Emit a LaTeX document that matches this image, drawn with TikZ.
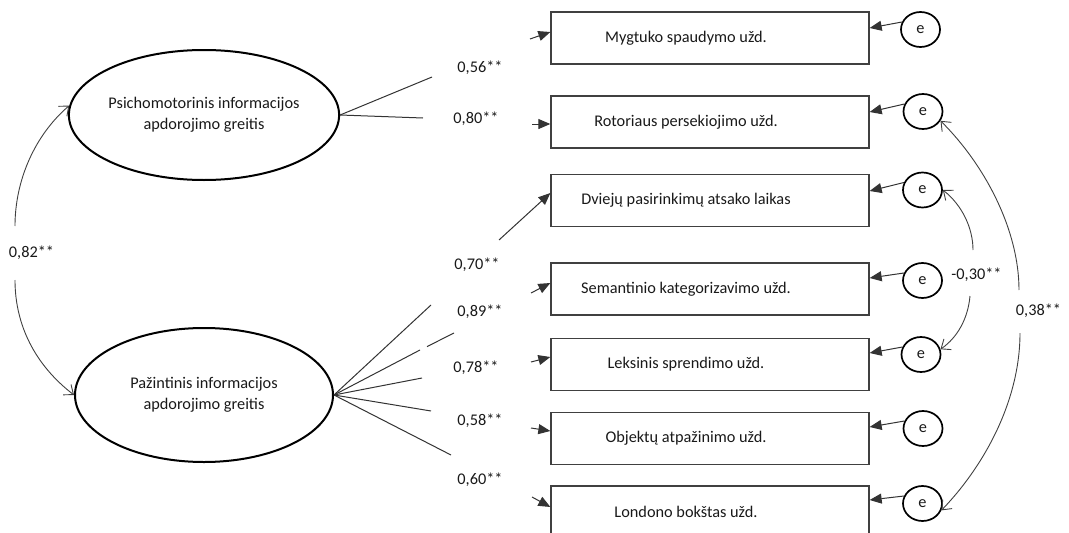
\documentclass[tikz,border=0pt]{standalone}
\usepackage{fontspec}
\setmainfont{Carlito}
\usetikzlibrary{arrows.meta,shapes.geometric}
\begin{document}
\begin{tikzpicture}[x=1pt,y=-1pt,
  every node/.style={font=\fontsize{16.3}{21}\selectfont, text=black!90},
  latent/.style={ellipse, draw=black, line width=2pt, minimum width=258pt, minimum height=130pt, align=center, inner sep=0pt},
  obs/.style={rectangle, draw=black!75, line width=1.3pt, minimum width=318pt, minimum height=52pt, inner sep=0pt},
  err/.style={ellipse, draw=black, line width=1.7pt, minimum width=39pt, minimum height=35pt, inner sep=0pt},
  load/.style={draw=black!80, line width=1pt},
  loadarr/.style={load, -{Triangle[length=12pt,width=10pt]}},
  covl/.style={draw=black!75, line width=0.9pt, -{Straight Barb[length=8pt,width=13pt]}},
  lab/.style={inner sep=0pt}]
\useasboundingbox (0,0) rectangle (1069,533);

% latent variables
\node[latent] (L1) at (204,115) {Psichomotorinis informacijos\\apdorojimo greitis};
\node[latent, minimum height=134pt] (L2) at (204,395) {Pažintinis informacijos\\apdorojimo greitis};

% observed variables
\node[obs] (b1) at (710,38)    {Mygtuko spaudymo užd.\hspace*{48pt}};
\node[obs] (b2) at (710,122)   {Rotoriaus persekiojimo užd.\hspace*{48pt}};
\node[obs] (b3) at (710,200.5) {Dviejų pasirinkimų atsako laikas\hspace*{48pt}};
\node[obs] (b4) at (710,289)   {Semantinio kategorizavimo užd.\hspace*{48pt}};
\node[obs] (b5) at (710,364.5) {Leksinis sprendimo užd.\hspace*{48pt}};
\node[obs] (b6) at (710,438.5) {Objektų atpažinimo užd.\hspace*{48pt}};
\node[obs] (b7) at (710,512)   {Londono bokštas užd.\hspace*{48pt}};

% error terms
\node[err] (e1) at (920.5,29.5) {e};
\node[err] (e2) at (923,111.5)  {e};
\node[err] (e3) at (922.5,190)  {e};
\node[err] (e4) at (922.5,280.5){e};
\node[err] (e5) at (921,354.5)  {e};
\node[err] (e6) at (923,428.5)  {e};
\node[err] (e7) at (922.5,503.5){e};

\foreach \i/\s in {1/10,2/10,3/9.5,4/11,5/11.5,6/11.5,7/12}
  \draw[loadarr] (e\i.158) -- ([yshift=\s pt]b\i.east);

% loading labels
\node[lab] (t1) at (480,68)  {0,56**};
\node[lab] (t2) at (476,119) {0,80**};
\node[lab] (t3) at (477,265) {0,70**};
\node[lab] (t4) at (480,312) {0,89**};
\node[lab] (t5) at (476,368) {0,78**};
\node[lab] (t6) at (480,421) {0,58**};
\node[lab] (t7) at (480,480) {0,60**};

% break points of the loading lines
\coordinate (p1a) at (432,77);  \coordinate (p1b) at (530,39);
\coordinate (p2a) at (423,118); \coordinate (p2b) at (532,124);
\coordinate (p3a) at (431,305); \coordinate (p3b) at (499,240);
\coordinate (p4a) at (420,350); \coordinate (p4c) at (427,346.6); \coordinate (p4d) at (454,333); \coordinate (p4b) at (531,293);
\coordinate (p5a) at (422,378); \coordinate (p5b) at (531,362);
\coordinate (p6a) at (431,411); \coordinate (p6b) at (531,428);
\coordinate (p7a) at (451,455); \coordinate (p7b) at (532,497);

\draw[load] (L1.east) -- (p1a);
\draw[loadarr] (p1b) -- ([yshift=6pt]b1.west);
\draw[load] (L1.east) -- (p2a);
\draw[loadarr] (p2b) -- ([yshift=-2pt]b2.west);
\draw[load] (L2.east) -- (p3a);
\draw[loadarr] (p3b) -- ([yshift=7.5pt]b3.west);
\draw[load] (L2.east) -- (p4a);
\draw[load] (p4c) -- (p4d);
\draw[loadarr] (p4b) -- ([yshift=6pt]b4.west);
\draw[load] (L2.east) -- (p5a);
\draw[loadarr] (p5b) -- ([yshift=7.5pt]b5.west);
\draw[load] (L2.east) -- (p6a);
\draw[loadarr] (p6b) -- ([yshift=7.5pt]b6.west);
\draw[load] (L2.east) -- (p7a);
\draw[loadarr] (p7b) -- ([yshift=5pt]b7.west);

% correlation between latent variables
\node[lab] (r1) at (31.5,253) {0,82**};
\coordinate (r1a) at (15,226);
\coordinate (r1b) at (15,280);
\draw[covl] (r1a) .. controls (15,180) and (35,135) .. (L1.176);
\draw[covl] (r1b) .. controls (15,325) and (35,365) .. (L2.west);

% error correlations
\node[lab] (r2) at (976.5,275) {-0,30**};
\coordinate (r2a) at (973,250);
\coordinate (r2b) at (970,296);
\draw[covl] (r2a) .. controls (973,228) and (962,205) .. (e3.east);
\draw[covl] (r2b) .. controls (968,318) and (958,337) .. (e5.15);

\node[lab] (r3) at (1038.5,311) {0,38**};
\coordinate (r3a) at (1019,290);
\coordinate (r3b) at (1020,333);
\draw[covl] (r3a) .. controls (1019,230) and (985,165) .. (e2.-28);
\draw[covl] (r3b) .. controls (1020,400) and (985,465) .. (e7.-20);
\end{tikzpicture}
\end{document}
